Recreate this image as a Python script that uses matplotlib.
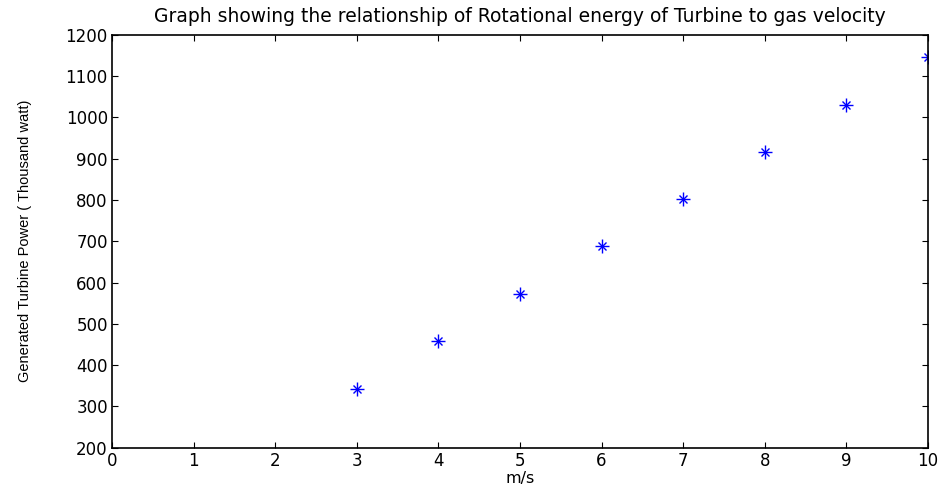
import matplotlib
matplotlib.use("Agg")
import matplotlib.pyplot as plt

# gas velocity (m/s) vs generated power (thousand watt)
velocity = [3, 4, 5, 6, 7, 8, 9, 10]
power = [343, 458, 571, 688, 802, 916, 1030, 1145]

x_ticks = [0, 1, 2, 3, 4, 5, 6, 7, 8, 9, 10]
y_ticks = [200, 300, 400, 500, 600, 700, 800, 900, 1000, 1100, 1200]

plt.rcParams['font.family'] = ['DejaVu Sans']

fig = plt.figure(figsize=(9.43, 4.9), dpi=100)
ax = fig.add_axes([0.1188, 0.0863, 0.8653, 0.8429])

# matlab style asterisk: plus + small cross
ax.plot(velocity, power, linestyle="none", marker="+", color="blue", ms=10, mew=1.0)
ax.plot(velocity, power, linestyle="none", marker="x", color="blue", ms=6, mew=1.0)

ax.set_xlim(0, 10)
ax.set_ylim(200, 1200)
ax.set_xticks(x_ticks)
ax.set_yticks(y_ticks)
ax.tick_params(direction="in", top=True, right=True, length=4, width=0.8, labelsize=12, pad=3)
for s in ax.spines.values():
    s.set_linewidth(1.2)

ax.set_title("Graph showing the relationship of Rotational energy of Turbine to gas velocity",
             fontsize=13.5, pad=9)
ax.set_xlabel("m/s", fontsize=11.5, labelpad=1)
ax.set_ylabel("Generated Turbine Power ( Thousand watt)", fontsize=10.5,
              family="Liberation Sans", labelpad=24)

fig.savefig("out.png", dpi=100)
